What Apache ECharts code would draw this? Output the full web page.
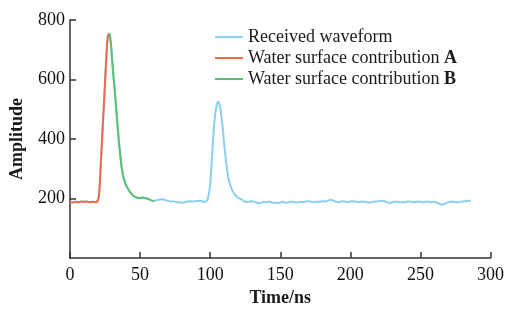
<!DOCTYPE html>
<html>
<head>
<meta charset="utf-8">
<script src="https://cdn.jsdelivr.net/npm/echarts@6/dist/echarts.min.js"></script>
<style>
  html, body { margin: 0; padding: 0; background: #fff; }
  #main { width: 507px; height: 312px; }
</style>
</head>
<body>
<div id="main"></div>
<script>
// received waveform (time in ns, amplitude)
var timeNs = [0, 2, 4, 6, 8, 10, 12, 14, 16, 18, 20, 21, 22, 23, 24, 25, 26, 27, 28, 29,
  30, 31, 32, 33, 34, 35, 36, 37, 38, 39, 40, 42, 44, 46, 48, 50, 52, 54, 56, 58,
  60, 62, 64, 66, 68, 70, 72, 74, 76, 78, 80, 82, 84, 86, 88, 90, 92, 94, 96, 98,
  99, 100, 101, 102, 103, 104, 105, 106, 107, 108, 109, 110, 111, 112, 113, 114, 116, 118, 120, 122,
  124, 126, 128, 130, 132, 134, 136, 138, 140, 142, 144, 146, 148, 150, 152, 154, 156, 158, 160, 162,
  164, 166, 168, 170, 172, 174, 176, 178, 180, 182, 184, 186, 188, 190, 192, 194, 196, 198, 200, 202,
  204, 206, 208, 210, 212, 214, 216, 218, 220, 222, 224, 226, 228, 230, 232, 234, 236, 238, 240, 242,
  244, 246, 248, 250, 252, 254, 256, 258, 260, 262, 264, 266, 268, 270, 272, 274, 276, 278, 280, 282,
  284, 286];
var received = [188, 187, 189, 188, 190, 189, 190, 188, 189, 188, 195, 230, 320, 410, 500, 590, 680, 745, 755, 730,
  670, 610, 560, 500, 440, 385, 340, 300, 275, 258, 245, 228, 215, 207, 203, 202, 204, 201, 198, 194,
  192, 195, 197, 198, 195, 192, 190, 190, 188, 187, 186, 188, 190, 191, 190, 192, 193, 191, 189, 195,
  215, 245, 315, 395, 455, 498, 520, 525, 508, 478, 435, 385, 338, 298, 270, 250, 225, 212, 203, 198,
  192, 188, 190, 191, 188, 185, 186, 189, 188, 190, 187, 186, 185, 187, 189, 186, 188, 190, 188, 187,
  189, 188, 190, 191, 189, 188, 190, 189, 191, 190, 193, 196, 193, 189, 188, 191, 190, 188, 190, 191,
  189, 188, 190, 189, 188, 187, 189, 190, 191, 193, 192, 188, 185, 188, 190, 189, 188, 187, 189, 190,
  189, 188, 190, 189, 188, 190, 189, 188, 189, 186, 182, 180, 184, 188, 190, 189, 187, 189, 190, 191,
  193, 193];
// time spans of the two water surface contributions
var spanA = [0, 28];
var spanB = [28, 60];
var xTicks = [0, 50, 100, 150, 200, 250, 300];
var yTicks = [0, 200, 400, 600, 800];
var seriesNames = ['Received waveform', 'Water surface contribution A', 'Water surface contribution B'];

function pick(span) {
  var out = [];
  for (var i = 0; i < timeNs.length; i++) {
    if (timeNs[i] >= span[0] && timeNs[i] <= span[1]) out.push([timeNs[i], received[i]]);
  }
  return out;
}
var receivedData = timeNs.map(function (t, i) { return [t, received[i]]; });

var font = 'Liberation Serif, Times New Roman, serif';
var chart = echarts.init(document.getElementById('main'), null, { renderer: 'canvas' });
var option = {
  animation: false,
  grid: { left: 70, right: 15, top: 20, bottom: 49, containLabel: false },
  legend: {
    orient: 'vertical',
    left: 210,
    top: 23,
    itemWidth: 28,
    itemHeight: 2,
    itemGap: 3,
    icon: 'rect',
    data: seriesNames,
    formatter: function (name) {
      if (name === seriesNames[1]) return '{n|Water surface contribution }{b|A}';
      if (name === seriesNames[2]) return '{n|Water surface contribution }{b|B}';
      return '{n|' + name + '}';
    },
    textStyle: {
      fontFamily: font,
      fontSize: 18,
      color: '#1a1a1a',
      rich: {
        n: { fontFamily: font, fontSize: 18, color: '#1a1a1a' },
        b: { fontFamily: font, fontSize: 18, fontWeight: 'bold', color: '#1a1a1a' }
      }
    }
  },
  xAxis: {
    type: 'value',
    min: xTicks[0],
    max: xTicks[xTicks.length - 1],
    interval: 50,
    name: 'Time/ns',
    nameLocation: 'middle',
    nameGap: 27,
    nameTextStyle: { fontFamily: font, fontSize: 18, fontWeight: 'bold', color: '#1a1a1a' },
    axisLine: { lineStyle: { color: '#333', width: 1.5 } },
    axisTick: { inside: true, length: 6, lineStyle: { color: '#333', width: 1.5 } },
    axisLabel: { margin: 8, fontFamily: font, fontSize: 18, color: '#111' },
    splitLine: { show: false }
  },
  yAxis: {
    type: 'value',
    min: yTicks[0],
    max: yTicks[yTicks.length - 1],
    interval: 200,
    name: 'Amplitude',
    nameLocation: 'middle',
    nameGap: 44,
    nameTextStyle: { fontFamily: font, fontSize: 18, fontWeight: 'bold', color: '#1a1a1a' },
    axisLine: { show: true, lineStyle: { color: '#333', width: 1.5 } },
    axisTick: { show: true, inside: true, length: 6, lineStyle: { color: '#333', width: 1.5 } },
    axisLabel: { margin: 5, showMinLabel: false, fontFamily: font, fontSize: 18, color: '#111' },
    splitLine: { show: false }
  },
  series: [
    {
      name: seriesNames[0], type: 'line', symbol: 'none', smooth: 0.3,
      data: receivedData,
      lineStyle: { color: '#8ccfee', width: 2 }, itemStyle: { color: '#8ccfee' }
    },
    {
      name: seriesNames[1], type: 'line', symbol: 'none', smooth: 0.3,
      data: pick(spanA),
      lineStyle: { color: '#f06a4c', width: 2 }, itemStyle: { color: '#f06a4c' }
    },
    {
      name: seriesNames[2], type: 'line', symbol: 'none', smooth: 0.3,
      data: pick(spanB),
      lineStyle: { color: '#5cbf72', width: 2 }, itemStyle: { color: '#5cbf72' }
    }
  ]
};
chart.setOption(option);
</script>
</body>
</html>
